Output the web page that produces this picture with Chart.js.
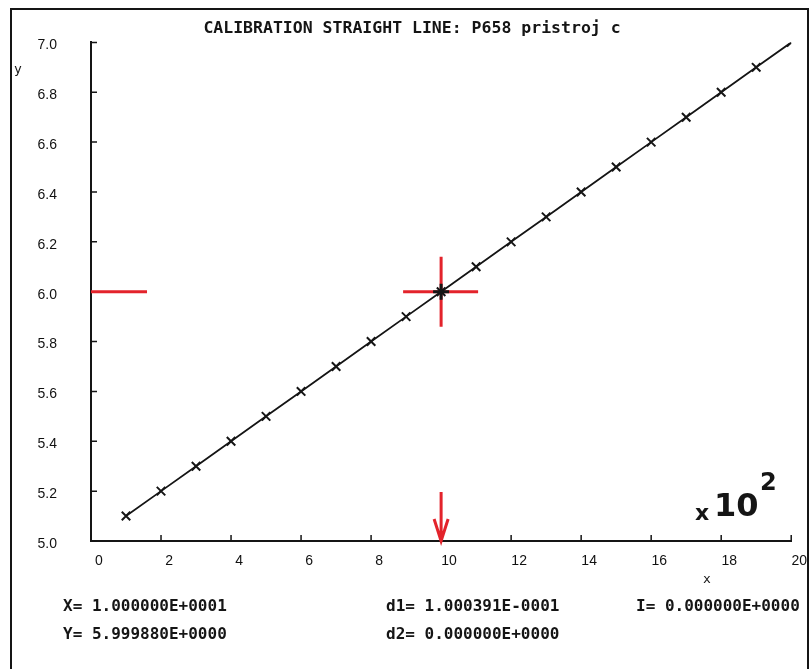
<!DOCTYPE html>
<html>
<head>
<meta charset="utf-8">
<title>Calibration straight line</title>
<script src="https://cdn.jsdelivr.net/npm/chart.js@4.4.1/dist/chart.umd.min.js"></script>
<style>
  body { margin: 0; background: #fff; }
  canvas { display: block; }
</style>
</head>
<body>
<canvas id="graf" width="811" height="669"></canvas>
<script>
// dados da reta de calibracao
const xValues = [1, 2, 3, 4, 5, 6, 7, 8, 9, 10, 11, 12, 13, 14, 15, 16, 17, 18, 19, 20];
const yValues = [5.1, 5.2, 5.3, 5.4, 5.5, 5.6, 5.7, 5.8, 5.9, 6.0, 6.1, 6.2, 6.3, 6.4, 6.5, 6.6, 6.7, 6.8, 6.9, 7.0];

// cursor (cruz vermelha) e leituras
const cursorX = 10;
const cursorY = 6.0;
const markerLevelEnd = 1.6; // fim do traco vermelho no eixo y

const titleText = "CALIBRATION STRAIGHT LINE: P658 pristroj c";
const readouts = [
  { text: "X= 1.000000E+0001", col: 0, row: 0 },
  { text: "Y= 5.999880E+0000", col: 0, row: 1 },
  { text: "d1= 1.000391E-0001", col: 1, row: 0 },
  { text: "d2= 0.000000E+0000", col: 1, row: 1 },
  { text: "I= 0.000000E+0000", col: 2, row: 0 },
];

const INK = "#151515";
const RED = "#e3232b";
const MONO = "'DejaVu Sans Mono', monospace";

// plugin: moldura, titulo, ticks internos, marcas vermelhas e textos
const decor = {
  id: "decor",
  beforeDraw(chart) {
    const c = chart.ctx;
    c.save();
    c.fillStyle = "#fff";
    c.fillRect(0, 0, chart.width, chart.height);
    c.strokeStyle = INK;
    c.lineWidth = 2;
    c.beginPath();
    c.moveTo(11, 669); c.lineTo(11, 9); c.lineTo(808, 9); c.lineTo(808, 669);
    c.stroke();
    c.restore();
  },
  beforeDatasetsDraw(chart) {
    const c = chart.ctx;
    const xs = chart.scales.x, ys = chart.scales.y;
    const a = chart.chartArea;
    c.save();
    // ticks para dentro
    c.strokeStyle = INK;
    c.lineWidth = 1.5;
    c.beginPath();
    ys.ticks.forEach(t => {
      const py = ys.getPixelForValue(t.value);
      c.moveTo(a.left, py); c.lineTo(a.left + 6, py);
    });
    xs.ticks.forEach(t => {
      const px = xs.getPixelForValue(t.value);
      c.moveTo(px, a.bottom); c.lineTo(px, a.bottom - 6);
    });
    c.stroke();

    // marcas vermelhas
    const cx = xs.getPixelForValue(cursorX);
    const cy = ys.getPixelForValue(cursorY);
    c.strokeStyle = RED;
    c.lineWidth = 3;
    c.beginPath();
    c.moveTo(a.left, cy); c.lineTo(xs.getPixelForValue(markerLevelEnd), cy);
    c.moveTo(cx - 38, cy); c.lineTo(cx + 37, cy);
    c.moveTo(cx, cy - 35); c.lineTo(cx, cy + 35);
    // seta
    c.moveTo(cx, a.bottom - 49); c.lineTo(cx, a.bottom);
    c.moveTo(cx - 7, a.bottom - 22); c.lineTo(cx, a.bottom);
    c.lineTo(cx + 7, a.bottom - 22);
    c.stroke();
    c.restore();
  },
  afterDatasetsDraw(chart) {
    const c = chart.ctx;
    const xs = chart.scales.x, ys = chart.scales.y;
    const cx = xs.getPixelForValue(cursorX);
    const cy = ys.getPixelForValue(cursorY);
    c.save();
    c.strokeStyle = INK;
    c.lineWidth = 3;
    c.beginPath();
    c.moveTo(cx - 8, cy); c.lineTo(cx + 8, cy);
    c.moveTo(cx, cy - 8); c.lineTo(cx, cy + 8);
    c.stroke();

    // titulo
    c.fillStyle = INK;
    c.textBaseline = "middle";
    c.textAlign = "center";
    c.font = "bold 16.5px " + MONO;
    c.fillText(titleText, 412, 29);

    // titulos dos eixos
    c.font = "13px " + MONO;
    c.fillText("y", 18, 70);
    c.fillText("x", 707, 580);

    // leituras
    c.textAlign = "left";
    c.font = "bold 16px " + MONO;
    const colX = [63, 386, 636];
    const rowY = [607, 635];
    readouts.forEach(r => c.fillText(r.text, colX[r.col], rowY[r.row]));

    // anotacao a mao
    c.font = "bold 22px 'DejaVu Sans', sans-serif";
    c.fillText("x", 695, 514);
    c.font = "bold 32px 'DejaVu Sans', sans-serif";
    c.fillText("10", 714, 508);
    c.font = "bold 24px 'DejaVu Sans', sans-serif";
    c.fillText("2", 760, 484);
    c.restore();
  },
};

const ctx = document.getElementById("graf").getContext("2d");
new Chart(ctx, {
  type: "line",
  data: {
    labels: xValues,
    datasets: [{
      data: xValues.map((x, i) => ({ x: x, y: yValues[i] })),
      borderColor: INK,
      borderWidth: 1.8,
      pointStyle: "crossRot",
      pointRadius: 6,
      pointBorderWidth: 2,
      pointBorderColor: INK,
      fill: false,
      tension: 0,
    }],
  },
  options: {
    responsive: false,
    animation: false,
    layout: { padding: { top: 39, left: 0, right: 18, bottom: 0 } },
    plugins: { legend: { display: false }, tooltip: { enabled: false } },
    scales: {
      x: {
        type: "linear",
        min: 0,
        max: 20,
        afterFit: (s) => { s.height = 128; },
        grid: { display: false, drawTicks: false },
        border: { display: true, color: INK, width: 2 },
        ticks: {
          stepSize: 2,
          padding: 12,
          labelOffset: 8,
          color: "#111",
          font: { family: "'Liberation Sans', sans-serif", size: 14 },
        },
      },
      y: {
        min: 5,
        max: 7,
        afterFit: (s) => { s.width = 91; },
        grid: { display: false, drawTicks: false },
        border: { display: true, color: INK, width: 2 },
        ticks: {
          stepSize: 0.2,
          padding: 34,
          labelOffset: 3,
          color: "#111",
          font: { family: "'Liberation Sans', sans-serif", size: 14 },
          callback: (v) => v.toFixed(1),
        },
      },
    },
  },
  plugins: [decor],
});
</script>
</body>
</html>
